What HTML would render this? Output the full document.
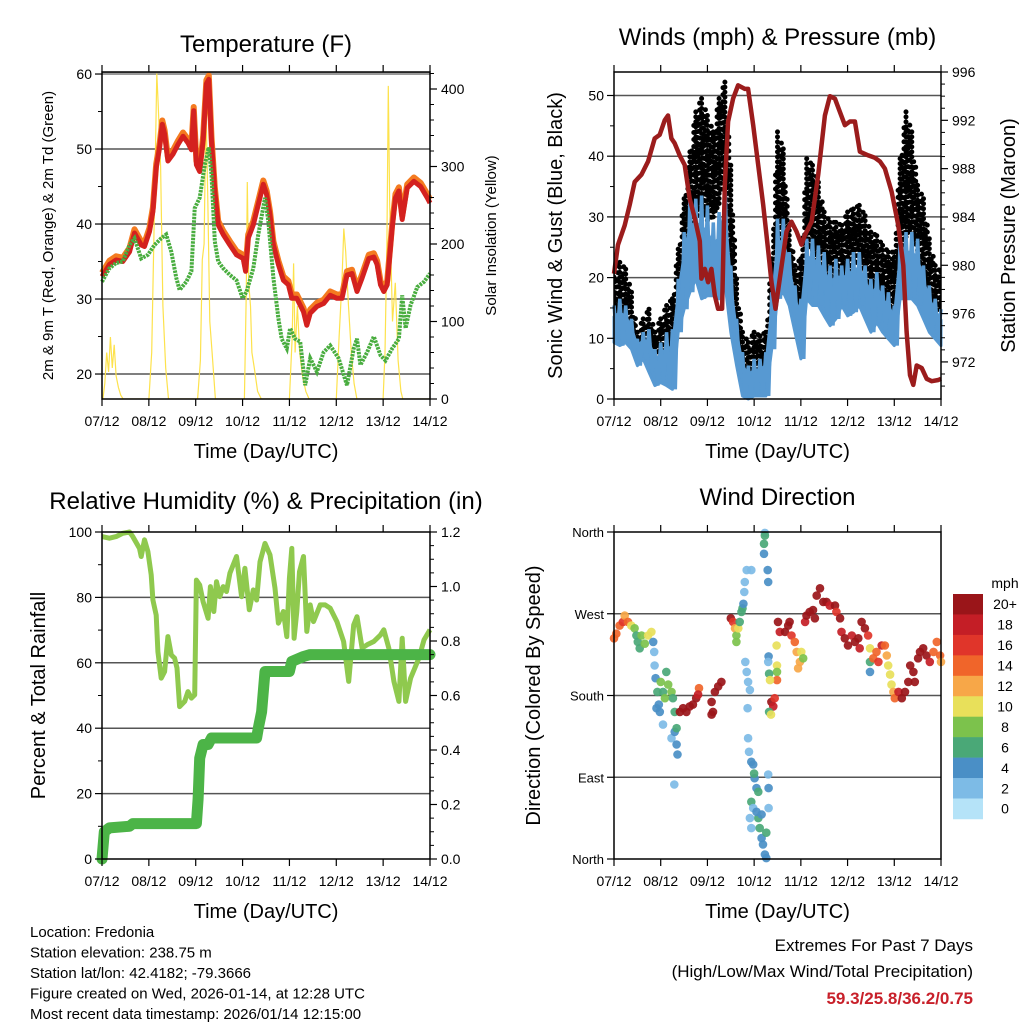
<!DOCTYPE html>
<html><head><meta charset="utf-8"><style>
html,body{margin:0;padding:0;background:#fff;}
svg{display:block;font-family:"Liberation Sans",Arial,sans-serif;}
</style></head><body>
<svg id="chart" width="1024" height="1024" viewBox="0 0 1024 1024" xmlns="http://www.w3.org/2000/svg">
<rect x="0" y="0" width="1024" height="1024" fill="#fff"/>
</svg>
<script>
// ---------- DATA ----------
const dayLabels = ["07/12","08/12","09/12","10/12","11/12","12/12","13/12","14/12"];

const tempDays = [0,0.157,0.3,0.443,0.586,0.693,0.836,0.907,1.014,1.086,1.157,1.229,1.286,1.336,1.407,1.514,1.621,1.729,1.836,1.907,1.957,2.014,2.086,2.157,2.229,2.279,2.336,2.407,2.479,2.586,2.729,2.871,3.014,3.064,3.121,3.229,3.336,3.443,3.514,3.586,3.657,3.764,3.871,3.979,4.05,4.157,4.3,4.371,4.443,4.586,4.729,4.871,5.014,5.121,5.229,5.336,5.443,5.55,5.693,5.8,5.871,5.943,6.014,6.086,6.193,6.264,6.336,6.407,6.514,6.657,6.8,6.943,7.0];
const tempRed = [33.0,34.6,35.2,35.0,36.3,38.8,37.2,37.0,39.0,41.7,47.5,50.2,53.3,52.0,48.4,49.3,50.6,51.7,50.8,49.9,55.1,47.9,47.0,51.1,58.7,59.3,51.1,44.4,39.9,38.6,37.2,35.9,35.4,33.7,38.1,39.9,42.6,45.3,43.9,41.2,37.2,34.6,32.5,31.9,30.1,30.1,28.3,26.5,28.1,29.0,29.4,30.5,30.1,30.1,33.2,33.4,31.0,32.8,35.4,35.6,34.6,31.9,31.0,31.9,39.5,43.5,44.4,40.6,44.8,45.7,45.0,43.5,42.8];
const dewDays = [0,0.157,0.3,0.443,0.586,0.693,0.836,0.979,1.121,1.264,1.371,1.479,1.586,1.657,1.8,1.907,1.979,2.086,2.193,2.279,2.336,2.407,2.479,2.586,2.729,2.871,3.0,3.086,3.229,3.336,3.479,3.55,3.657,3.764,3.836,3.943,4.014,4.121,4.229,4.336,4.443,4.586,4.729,4.871,5.05,5.229,5.371,5.443,5.514,5.657,5.8,5.943,6.05,6.193,6.336,6.407,6.479,6.586,6.729,6.871,7.0];
const dewVals = [32.3,34.1,34.8,35.0,37.2,38.1,35.4,35.9,37.2,38.1,38.6,36.3,32.8,31.2,32.3,33.7,42.1,43.5,47.9,50.2,46.6,37.7,35.0,34.1,33.2,32.5,30.1,31.0,34.1,38.6,43.5,40.4,32.8,27.4,24.7,23.4,26.1,24.7,24.3,18.5,22.1,20.3,22.9,23.8,22.1,18.5,23.4,24.7,21.2,22.9,25.0,22.5,21.8,23.4,24.7,30.5,26.1,29.2,31.6,32.3,33.4];
const solarDays = [0,0.02,0.06,0.1,0.14,0.18,0.22,0.26,0.3,0.35,0.4,0.45,1.0,1.06,1.12,1.17,1.2,1.25,1.3,1.36,1.42,2.04,2.1,2.14,2.18,2.22,2.26,2.3,2.35,2.42,3.04,3.08,3.1,3.13,3.17,3.2,3.25,3.32,3.4,4.0,4.06,4.09,4.12,4.17,4.22,4.28,4.35,4.42,5.0,5.06,5.12,5.16,5.2,5.26,5.32,5.38,5.44,6.0,6.04,6.08,6.11,6.14,6.2,6.26,6.32,6.38,6.42,7.0];
const solarVals = [0,0,20,60,35,80,40,70,30,15,5,0,0,60,250,420,380,300,120,40,0,0,50,180,200,380,250,100,60,0,0,140,280,150,120,60,40,10,0,0,80,175,60,120,60,30,10,0,0,80,150,220,190,120,60,20,0,0,60,200,404,250,100,150,50,10,0,0];

const windDays = [0,0.125,0.25,0.375,0.5,0.625,0.75,0.875,1,1.125,1.25,1.375,1.5,1.625,1.75,1.875,2,2.125,2.25,2.375,2.5,2.625,2.75,2.875,3,3.125,3.25,3.375,3.5,3.625,3.75,3.875,4,4.125,4.25,4.375,4.5,4.625,4.75,4.875,5,5.125,5.25,5.375,5.5,5.625,5.75,5.875,6,6.125,6.25,6.375,6.5,6.625,6.75,6.875,7];
const gustHi = [20.9,22.5,21.4,17.6,11.0,13.2,14.8,11.0,13.2,15.4,16.5,24.7,33.0,40.7,47.3,49.5,46.7,44.0,49.5,52.2,38.5,19.8,11.0,9.3,11.0,10.4,11.0,23.1,44.0,41.2,28.6,22.0,23.1,39.6,38.5,35.7,30.8,29.1,29.1,28.6,30.8,31.3,31.9,30.2,27.5,26.9,25.3,24.2,24.2,39.6,47.3,44.0,35.2,33.0,26.4,22.0,20.9];
const gustLo = [13.2,12.1,13.2,11.0,7.1,7.7,8.2,5.5,6.6,8.2,6.6,16.5,20.9,26.4,30.2,31.9,30.2,30.2,33.0,38.5,16.5,8.8,4.4,2.7,3.3,3.8,4.4,12.1,23.1,25.3,19.8,14.8,13.2,26.4,25.3,22.0,20.9,16.5,19.2,19.8,20.9,22.0,24.2,19.8,15.4,17.0,15.4,13.7,13.2,24.2,27.5,28.6,24.2,20.9,16.5,15.4,15.4];
const windHi = [15.4,16.5,15.4,13.2,9.9,11.0,11.5,8.2,9.3,11.0,11.5,19.8,27.5,33.0,33.0,33.5,31.9,29.1,30.8,36.3,22.0,13.2,7.7,5.5,6.6,6.6,7.7,17.6,29.7,29.7,24.2,18.7,16.5,26.4,26.4,25.3,24.2,22.0,23.1,22.0,23.1,24.2,24.2,22.0,19.8,20.9,18.7,17.6,15.4,26.4,27.5,27.5,26.4,22.0,18.7,16.5,14.8];
const windLo = [9.3,8.8,9.3,8.2,5.5,6.6,4.4,2.2,2.7,2.2,1.6,11.0,14.8,17.6,19.8,16.5,17.0,17.0,16.5,19.2,11.0,5.5,0.5,0,0.5,0.5,0.5,8.2,16.5,17.6,15.4,11.0,6.6,16.5,15.4,15.4,13.7,12.1,13.2,15.4,13.7,14.3,15.4,13.2,11.0,12.6,11.0,9.9,8.8,16.5,16.5,16.5,15.4,13.2,11.0,9.9,8.8];
const presDays = [0,0.086,0.229,0.336,0.443,0.586,0.729,0.871,0.979,1.086,1.157,1.229,1.3,1.407,1.514,1.621,1.729,1.836,1.871,1.943,2.014,2.086,2.157,2.229,2.314,2.371,2.443,2.55,2.657,2.8,2.871,2.979,3.086,3.193,3.3,3.371,3.457,3.55,3.693,3.8,3.907,4.014,4.086,4.229,4.371,4.514,4.621,4.729,4.836,4.943,5.05,5.157,5.264,5.443,5.586,5.693,5.8,5.943,6.086,6.193,6.264,6.336,6.407,6.479,6.586,6.693,6.8,6.943,7.0];
const presVals = [979.3,981.7,983.3,985.0,986.9,987.5,988.6,990.5,990.8,992.0,992.4,990.5,990.1,989.1,988.3,985.5,983.9,982.0,978.9,979.7,978.6,979.7,977.5,976.4,976.4,986.6,991.9,993.8,994.9,994.6,994.6,991.6,988.3,985.0,981.2,978.6,976.4,978.9,982.8,983.6,982.8,981.7,982.5,983.6,987.5,992.4,994.0,993.8,992.7,991.6,991.9,991.9,989.4,989.1,988.9,988.6,988.0,986.1,983.3,980.0,974.5,970.9,970.1,971.7,971.5,970.6,970.4,970.5,970.6];

const rhDays = [0,0.157,0.3,0.443,0.586,0.657,0.8,0.836,0.907,0.979,1.05,1.086,1.157,1.193,1.264,1.336,1.407,1.479,1.55,1.6,1.657,1.764,1.836,1.907,1.979,2.014,2.086,2.157,2.264,2.314,2.386,2.443,2.514,2.586,2.657,2.729,2.871,2.979,3.05,3.143,3.229,3.3,3.371,3.479,3.586,3.693,3.764,3.871,3.943,4.0,4.05,4.1,4.157,4.214,4.3,4.371,4.443,4.514,4.657,4.764,4.871,5.014,5.157,5.264,5.371,5.443,5.55,5.657,5.8,5.943,6.014,6.121,6.229,6.336,6.407,6.479,6.586,6.764,6.871,7.0];
const rhVals = [98.6,98.1,98.6,99.6,100,98.6,95.0,92.5,97.6,94.0,86.9,79.2,74.6,63.4,55.3,57.3,68.0,62.4,61.4,58.4,46.6,48.2,51.2,49.2,50.2,85.3,83.8,78.7,73.6,83.3,75.7,84.8,80.2,83.3,81.8,87.4,92.5,80.2,88.9,76.2,82.3,79.2,90.9,96.5,93.0,82.8,72.1,75.7,68.0,85.8,95.0,67.5,75.7,87.9,92.5,69.6,77.7,72.6,77.7,77.7,76.7,72.6,66.5,54.3,71.6,74.1,64.5,65.5,66.5,68.5,70.1,64.5,54.3,48.2,67.5,48.2,55.3,61.4,67.0,70.1];
const precipDays = [0,0.05,0.157,0.586,0.657,1.871,2.014,2.05,2.086,2.157,2.264,2.336,3.3,3.336,3.407,3.479,4.0,4.05,4.3,4.443,7.0];
const precipVals = [0,0.10,0.114,0.12,0.13,0.13,0.13,0.22,0.37,0.42,0.42,0.444,0.444,0.48,0.54,0.688,0.688,0.725,0.743,0.75,0.75];

const dirDays = [0,0.05,0.12,0.19,0.23,0.3,0.37,0.44,0.48,0.51,0.55,0.59,0.66,0.73,0.8,0.84,0.86,0.87,0.89,0.93,0.96,1.0,1.05,1.09,1.12,1.16,1.23,1.26,1.3,0.91,0.98,1.05,1.23,1.3,1.34,1.36,1.29,1.34,1.41,1.48,1.55,1.62,1.69,1.76,1.82,1.8,2.09,2.12,2.16,2.23,2.3,2.09,2.5,2.55,2.59,2.62,2.66,2.69,2.73,2.75,2.77,2.79,2.8,2.62,2.81,2.84,2.87,2.91,2.86,2.94,3.23,3.23,3.21,3.21,3.29,3.3,3.31,3.3,3.48,3.49,3.49,3.49,3.32,3.34,3.37,3.44,3.41,3.32,3.36,2.84,2.87,2.89,2.94,2.98,3.01,3.05,2.94,2.98,3.09,3.12,3.16,3.19,3.23,3.26,3.3,3.31,3.31,2.91,2.94,3.05,3.09,3.16,3.26,3.0,3.51,3.55,3.66,3.73,3.76,3.8,3.87,3.91,3.98,4.01,4.05,3.94,4.09,4.12,4.19,4.26,4.3,4.34,4.41,4.48,4.55,4.62,4.73,4.76,4.84,4.87,4.94,5.01,5.09,5.16,5.23,5.26,5.3,5.37,5.44,5.48,5.48,5.48,5.55,5.62,5.66,5.73,5.8,5.84,5.87,5.91,5.94,5.98,6.01,6.09,6.16,6.23,6.3,6.34,6.41,6.44,6.51,6.55,6.62,6.69,6.76,6.84,6.91,6.98,7.0];
const dirDegs = [243,248,257,261,268,261,257,254,246,239,232,246,237,246,250,239,228,213,199,184,170,195,184,177,206,192,184,177,162,166,162,148,133,140,126,115,82,144,162,166,162,168,170,177,188,181,173,162,184,190,195,159,265,261,254,246,254,261,272,276,281,294,305,239,217,206,195,186,166,318,359,356,347,336,318,305,223,217,235,213,206,197,204,197,173,177,168,162,159,318,133,118,107,104,89,78,63,56,45,34,23,16,5,1,93,78,56,45,34,52,74,49,29,94,261,250,250,257,261,246,239,228,217,228,221,210,261,268,272,274,265,290,298,283,283,279,279,272,265,250,243,235,246,239,243,232,261,254,246,232,217,206,221,228,217,235,235,224,213,203,192,184,177,184,177,184,195,213,206,195,221,228,232,224,217,228,239,224,217];
const dirSpds = [14,14,14,16,12,14,10,8,6,6,6,8,8,10,10,4,2,2,4,6,4,8,6,8,6,8,8,6,6,4,4,2,2,4,4,4,2,6,20,20,20,20,20,20,14,18,20,20,20,20,20,20,20,16,12,8,10,6,6,6,4,2,2,8,2,2,2,2,2,2,2,6,6,4,4,4,4,2,10,10,8,14,6,10,20,16,18,6,10,2,2,2,4,4,4,4,6,2,6,6,4,4,4,4,2,4,2,2,2,4,6,4,6,6,20,18,20,20,20,16,14,12,12,10,8,12,18,20,20,20,20,20,20,20,20,18,20,16,20,18,20,20,18,20,20,18,20,20,16,10,6,4,14,14,16,18,14,12,10,10,10,12,14,18,20,20,20,20,20,20,20,20,20,20,18,14,14,14,12,10];

const speedColors = ["#b5e3f8","#7dbbe6","#4a8fc6","#4aa877","#7cc24c","#e8e05a","#f7a748","#f0652a","#e0352a","#c41e26","#9a1519"];
const speedLabels = ["0","2","4","6","8","10","12","14","16","18","20+"];

// ---------- HELPERS ----------
const NS = "http://www.w3.org/2000/svg";
const svg = document.getElementById("chart");
function mk(tag, attrs, parent) {
  const e = document.createElementNS(NS, tag);
  for (const k in attrs) e.setAttribute(k, attrs[k]);
  (parent || svg).appendChild(e);
  return e;
}
function txt(s, x, y, size, anchor, parent, extra) {
  const t = mk("text", Object.assign({x: x, y: y, "font-size": size, "text-anchor": anchor || "start", fill: "#000"}, extra || {}), parent);
  t.textContent = s;
  return t;
}
function group(name) {
  const g = mk("g", {});
  
  
  return g;
}
function line(x1, y1, x2, y2, stroke, w, parent) {
  return mk("line", {x1: x1, y1: y1, x2: x2, y2: y2, stroke: stroke, "stroke-width": w}, parent);
}

function makePanel(cfg) {
  const g = group(cfg.name);
  const xs = d => cfg.x0 + d * (cfg.x1 - cfg.x0) / 7;
  const ys = v => cfg.y1 - (v - cfg.lmin) * (cfg.y1 - cfg.y0) / (cfg.lmax - cfg.lmin);
  const grid = group(cfg.name + "-grid"); g.appendChild(grid);
  cfg.lticks.forEach(v => { const y = ys(v); if (y > cfg.y0 + 1 && y < cfg.y1 - 1) line(cfg.x0, y, cfg.x1, y, "#555", 1.5, grid); });
  return {g: g, xs: xs, ys: ys};
}
function frame(cfg, P, rs) {
  const g = group(cfg.name + "-axes"); 
  mk("rect", {x: cfg.x0, y: cfg.y0, width: cfg.x1 - cfg.x0, height: cfg.y1 - cfg.y0, fill: "none", stroke: "#000", "stroke-width": 1.5}, g);
  for (let d = 0; d <= 7; d++) {
    const x = P.xs(d);
    line(x, cfg.y1, x, cfg.y1 + 7, "#000", 1.2, g);
    line(x, cfg.y0, x, cfg.y0 - 7, "#000", 1.2, g);
    const t = txt(dayLabels[d], x, cfg.y1 + 27, 14, "middle", g);
    
    
  }
  cfg.lticks.forEach((v, i) => {
    const y = P.ys(v);
    line(cfg.x0 - 7, y, cfg.x0, y, "#000", 1.2, g);
    const t = txt(cfg.llabels ? cfg.llabels[i] : String(v), cfg.x0 - 10, y + 5, cfg.lfs || 14, "end", g);
    
    
  });
  (cfg.lminor || []).forEach(v => { const y = P.ys(v); line(cfg.x0 - 4, y, cfg.x0, y, "#000", 1, g); });
  if (rs) {
    rs.ticks.forEach((v, i) => {
      const y = rs.f(v);
      line(cfg.x1, y, cfg.x1 + 7, y, "#000", 1.2, g);
      const t = txt(rs.labels[i], cfg.x1 + 11, y + 5, 14, "start", g);
      
      
    });
    (rs.minor || []).forEach(v => { const y = rs.f(v); line(cfg.x1, y, cfg.x1 + 4, y, "#000", 1, g); });
  }
  const tt = txt(cfg.title, (cfg.x0 + cfg.x1) / 2, cfg.titleY, 24, "middle", g);
  
  
  const xt = txt("Time (Day/UTC)", (cfg.x0 + cfg.x1) / 2, cfg.y1 + 59, 20, "middle", g);
  
  
  const lt = txt(cfg.ltitle, 0, 0, cfg.ltfs, "middle", g, {transform: "translate(" + cfg.ltx + "," + ((cfg.y0 + cfg.y1) / 2) + ") rotate(-90)"});
  
  
  if (cfg.rtitle) {
    const rt = txt(cfg.rtitle, 0, 0, cfg.rtfs, "middle", g, {transform: "translate(" + cfg.rtx + "," + ((cfg.y0 + cfg.y1) / 2) + ") rotate(-90)"});
    
    
  }
}
function pts(days, vals, xs, ys) {
  const n = Math.min(days.length, vals.length);
  const a = [];
  for (let i = 0; i < n; i++) a.push(xs(days[i]).toFixed(1) + "," + ys(vals[i]).toFixed(1));
  return a.join(" ");
}

// ---------- PANEL 1: TEMPERATURE ----------
(function () {
  const cfg = {name: "temperature-panel", x0: 102, x1: 430, y0: 72, y1: 399, lmin: 16.67, lmax: 60.27,
    lticks: [20, 30, 40, 50, 60], lminor: [25, 35, 45, 55], title: "Temperature (F)", titleY: 52,
    ltitle: "2m & 9m T (Red, Orange) & 2m Td (Green)", ltx: 53, ltfs: 15,
    rtitle: "Solar Insolation (Yellow)", rtx: 496, rtfs: 15};
  const P = makePanel(cfg);
  line(cfg.x0, 73.5, cfg.x1, 73.5, "#999", 3, P.g);
  const ysol = v => cfg.y1 - v * 0.775;
  const clip = mk("clipPath", {id: "c1"}, P.g);
  mk("rect", {x: cfg.x0, y: cfg.y0, width: cfg.x1 - cfg.x0, height: cfg.y1 - cfg.y0}, clip);
  const s = mk("polyline", {points: pts(solarDays, solarVals, P.xs, ysol), fill: "none", stroke: "#fde24c", "stroke-width": 1.2, "clip-path": "url(#c1)"}, P.g);
  
  
  const o = mk("polyline", {points: pts(tempDays, tempRed.map(v => v + 0.5), P.xs, P.ys), fill: "none", stroke: "#f47b20", "stroke-width": 6, "stroke-linejoin": "round"}, P.g);
  
  
  const r = mk("polyline", {points: pts(tempDays, tempRed, P.xs, P.ys), fill: "none", stroke: "#d4211f", "stroke-width": 5, "stroke-linejoin": "round"}, P.g);
  
  
  const d = mk("polyline", {points: pts(dewDays, dewVals, P.xs, P.ys), fill: "none", stroke: "#49ad3f", "stroke-width": 4, "stroke-dasharray": "2.5 1"}, P.g);
  
  
  frame(cfg, P, {f: ysol, ticks: [0, 100, 200, 300, 400], labels: ["0", "100", "200", "300", "400"],
    minor: [20, 40, 60, 80, 120, 140, 160, 180, 220, 240, 260, 280, 320, 340, 360, 380, 420]});
})();

// ---------- PANEL 2: WINDS ----------
(function () {
  const cfg = {name: "winds-panel", x0: 614, x1: 941, y0: 72, y1: 399, lmin: 0, lmax: 53.87,
    lticks: [0, 10, 20, 30, 40, 50], lminor: [5, 15, 25, 35, 45], title: "Winds (mph) & Pressure (mb)", titleY: 45,
    ltitle: "Sonic Wind & Gust (Blue, Black)", ltx: 562, ltfs: 20,
    rtitle: "Station Pressure (Maroon)", rtx: 1015, rtfs: 20};
  const P = makePanel(cfg);
  const yp = p => 72 + (996 - p) * 12.08;
  const clip = mk("clipPath", {id: "c2"}, P.g);
  mk("rect", {x: cfg.x0, y: cfg.y0, width: cfg.x1 - cfg.x0, height: cfg.y1 - cfg.y0}, clip);
  // gust cloud: dotted vertical strokes between low and high per sample (plus half-steps)
  const gg = group("gust-black-points"); P.g.appendChild(gg);
  gg.setAttribute("clip-path", "url(#c2)");
  for (let i = 0; i < windDays.length; i++) {
    const x = P.xs(windDays[i]);
    const steps = i < windDays.length - 1 ? [0, 0.33, 0.66] : [0];
    steps.forEach((f, k) => {
      const xx = x + f * (P.xs(windDays[Math.min(i + 1, windDays.length - 1)]) - x);
      const hi = gustHi[i] + f * ((gustHi[i + 1] || gustHi[i]) - gustHi[i]);
      const lo = gustLo[i] + f * ((gustLo[i + 1] || gustLo[i]) - gustLo[i]);
      const l = mk("line", {x1: xx.toFixed(1), y1: P.ys(hi + (k === 1 ? -2 : 0)).toFixed(1), x2: xx.toFixed(1), y2: P.ys(lo - 1).toFixed(1),
        stroke: "#000", "stroke-width": 5, "stroke-linecap": "round", "stroke-dasharray": "0 " + (5 + k)}, gg);
      
      
    });
  }
  const zig = (hi, lo) => {
    const a = [];
    for (let i = 0; i < windDays.length; i++) {
      a.push(P.xs(windDays[i]).toFixed(1) + "," + P.ys(hi[i]).toFixed(1));
      if (i < windDays.length - 1) {
        const xm = (P.xs(windDays[i]) + P.xs(windDays[i + 1])) / 2;
        a.push(xm.toFixed(1) + "," + P.ys(lo[i]).toFixed(1));
      }
    }
    return a.join(" ");
  };
  const band = (hi, lo) => {
    const a = [];
    for (let i = 0; i < windDays.length; i++) a.push(P.xs(windDays[i]).toFixed(1) + "," + P.ys((hi[i] * 0.7 + lo[i] * 0.3)).toFixed(1));
    for (let i = windDays.length - 1; i >= 0; i--) a.push(P.xs(windDays[i]).toFixed(1) + "," + P.ys(lo[i]).toFixed(1));
    return a.join(" ");
  };
  const wb = mk("polygon", {points: band(windHi, windLo), fill: "#5799d2", stroke: "#5799d2", "stroke-width": 3, "stroke-linejoin": "round"}, P.g);
  
  
  const wz = mk("polyline", {points: zig(windHi, windLo), fill: "none", stroke: "#5799d2", "stroke-width": 3.5}, P.g);
  
  
  const pr = mk("polyline", {points: pts(presDays, presVals, P.xs, yp), fill: "none", stroke: "#9b1c1c", "stroke-width": 4.5, "stroke-linejoin": "round"}, P.g);
  
  
  const mn = [];
  for (let p = 970; p <= 996; p++) if (p % 4 !== 0) mn.push(p);
  frame(cfg, P, {f: yp, ticks: [972, 976, 980, 984, 988, 992, 996], labels: ["972", "976", "980", "984", "988", "992", "996"], minor: mn});
})();

// ---------- PANEL 3: RH & PRECIP ----------
(function () {
  const cfg = {name: "humidity-panel", x0: 102, x1: 430, y0: 532, y1: 859, lmin: 0, lmax: 100,
    lticks: [0, 20, 40, 60, 80, 100], lminor: [10, 30, 50, 70, 90], title: "Relative Humidity (%) & Precipitation (in)", titleY: 509,
    ltitle: "Percent & Total Rainfall", ltx: 45, ltfs: 20};
  const P = makePanel(cfg);
  const ypr = p => cfg.y1 - p * (cfg.y1 - cfg.y0) / 1.2;
  const rh = mk("polyline", {points: pts(rhDays, rhVals, P.xs, P.ys), fill: "none", stroke: "#8fc94e", "stroke-width": 5, "stroke-linejoin": "round"}, P.g);
  
  
  const pc = mk("polyline", {points: pts(precipDays, precipVals, P.xs, ypr), fill: "none", stroke: "#4cb447", "stroke-width": 11, "stroke-linejoin": "round", "stroke-linecap": "round"}, P.g);
  
  
  const mn = [];
  for (let i = 1; i <= 24; i++) if (i % 4 !== 0) mn.push(i * 0.05);
  frame(cfg, P, {f: ypr, ticks: [0, 0.2, 0.4, 0.6, 0.8, 1.0, 1.2], labels: ["0.0", "0.2", "0.4", "0.6", "0.8", "1.0", "1.2"], minor: mn});
})();

// ---------- PANEL 4: WIND DIRECTION ----------
(function () {
  const cfg = {name: "wind-direction-panel", x0: 614, x1: 941, y0: 532, y1: 859, lmin: 0, lmax: 360,
    lticks: [0, 90, 180, 270, 360], llabels: ["North", "East", "South", "West", "North"], lfs: 13,
    title: "Wind Direction", titleY: 505, ltitle: "Direction (Colored By Speed)", ltx: 540, ltfs: 20};
  const P = makePanel(cfg);
  const n = Math.min(dirDays.length, dirDegs.length, dirSpds.length);
  for (let i = 0; i < n; i++) {
    const idx = Math.min(10, Math.floor(dirSpds[i] / 2));
    const c = mk("circle", {cx: P.xs(dirDays[i]).toFixed(1), cy: P.ys(dirDegs[i]).toFixed(1), r: 4.3, fill: speedColors[idx], "fill-opacity": 0.92}, P.g);
    
    
  }
  frame(cfg, P, null);
  const leg = group("speed-colorbar");
  txt("mph", 1005, 588, 14, "middle", leg);
  const bh = 20.45;
  for (let k = 0; k < 11; k++) {
    const idx = 10 - k;
    const r = mk("rect", {x: 953, y: 594 + k * bh, width: 30, height: bh + 0.3, fill: speedColors[idx]}, leg);
    
    
    const t = txt(speedLabels[idx], 1005, 594 + k * bh + bh / 2 + 5, 14, "middle", leg);
    
    
  }
})();

// ---------- FOOTER TEXT ----------
(function () {
  const g = group("station-info");
  ["Location: Fredonia", "Station elevation: 238.75 m", "Station lat/lon: 42.4182; -79.3666",
   "Figure created on Wed, 2026-01-14, at 12:28 UTC", "Most recent data timestamp: 2026/01/14 12:15:00"]
  .forEach((s, i) => txt(s, 30, 937 + i * 20.5, 15, "start", g));
  const e = group("extremes-summary");
  txt("Extremes For Past 7 Days", 973, 951, 17, "end", e);
  txt("(High/Low/Max Wind/Total Precipitation)", 973, 977, 17, "end", e);
  txt("59.3/25.8/36.2/0.75", 973, 1004, 17, "end", e, {fill: "#c8202a", "font-weight": "bold"});
})();
</script>
</body></html>
